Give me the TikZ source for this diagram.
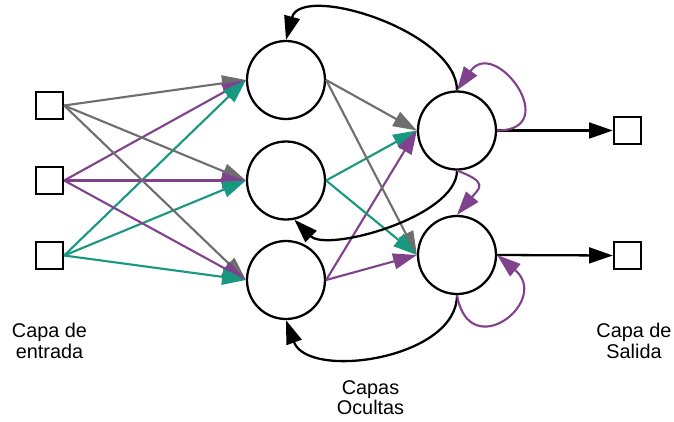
\documentclass[tikz,border=0pt]{standalone}
\usepackage{fontspec}
\setmainfont{Liberation Sans}
\usepackage{xcolor}
\usetikzlibrary{
    arrows.meta,
    shapes,
    positioning,
    calc
}
\definecolor{gris}{RGB}{110,110,110}
\definecolor{morado}{RGB}{128,66,140}
\definecolor{verde}{RGB}{24,152,128}
\tikzset{%
    >={Triangle[width=9pt,length=13.5pt]},
    % Specifications for style of nodes:
    base/.style = {
        draw=black, line width=1.3pt, fill=white, inner sep=0pt
    },
    capa/.style = {base, rectangle, minimum size=0.54cm},
    neurona/.style = {base, circle, minimum size=1.56cm},
    etiqueta/.style = {align=center, font=\fontsize{11.3}{11.5}\selectfont},
    peso/.style = {->, line width=1.2pt},
    lazo/.style = {->, line width=1.3pt, draw=black}
}

\begin{document}
\begin{tikzpicture}
    \useasboundingbox (0,0) rectangle (13.48,8.42);
    % capa de entrada
    \node[capa] (e1) at (0.99,6.31) {};
    \node[capa] (e2) at (0.99,4.81) {};
    \node[capa] (e3) at (0.99,3.31) {};
    % capas ocultas
    \node[neurona] (h1) at (5.72,6.82) {};
    \node[neurona] (h2) at (5.72,4.81) {};
    \node[neurona] (h3) at (5.72,2.82) {};
    \node[neurona] (o1) at (9.14,5.81) {};
    \node[neurona] (o2) at (9.14,3.32) {};
    % capa de salida
    \node[capa] (s1) at (12.55,5.81) {};
    \node[capa] (s2) at (12.55,3.31) {};
    % textos
    \node[etiqueta] (t1) at (0.99,1.6) {Capa de\\entrada};
    \node[etiqueta] (t2) at (7.41,0.46) {Capas\\Ocultas};
    \node[etiqueta] (t3) at (12.68,1.6) {Capa de\\Salida};
    % pesos
    \foreach \h in {h1,h2,h3} {
        \draw[peso, gris] (e1.east) -- (\h.west);
        \draw[peso, morado] (e2.east) -- (\h.west);
        \draw[peso, verde] (e3.east) -- (\h.west);
    }
    \foreach \o in {o1,o2} {
        \draw[peso, gris] (h1.east) -- (\o.west);
        \draw[peso, verde] (h2.east) -- (\o.west);
        \draw[peso, morado] (h3.east) -- (\o.west);
    }
    \draw[lazo] (o1.east) -- (s1.west);
    \draw[lazo] (o2.east) -- (s2.west);
    % conexiones recurrentes
    \draw[lazo] (o1.north) to[out=90, in=75, looseness=0.85] (h1.north);
    \draw[lazo] (o1.south) to[out=-90, in=-45, looseness=0.7] (h2.-78);
    \draw[lazo] (o2.south) to[out=-90, in=-70, looseness=0.95] (h3.south);
    \draw[peso, morado] (o1.east) to[out=0, in=55, looseness=3] (o1.north);
    \draw[peso, morado] (o2.south) to[out=-80, in=-40, looseness=3.2] (o2.east);
    \draw[peso, morado] (o1.south) to[out=-20, in=50, looseness=2] (o2.north);
\end{tikzpicture}
\end{document}
